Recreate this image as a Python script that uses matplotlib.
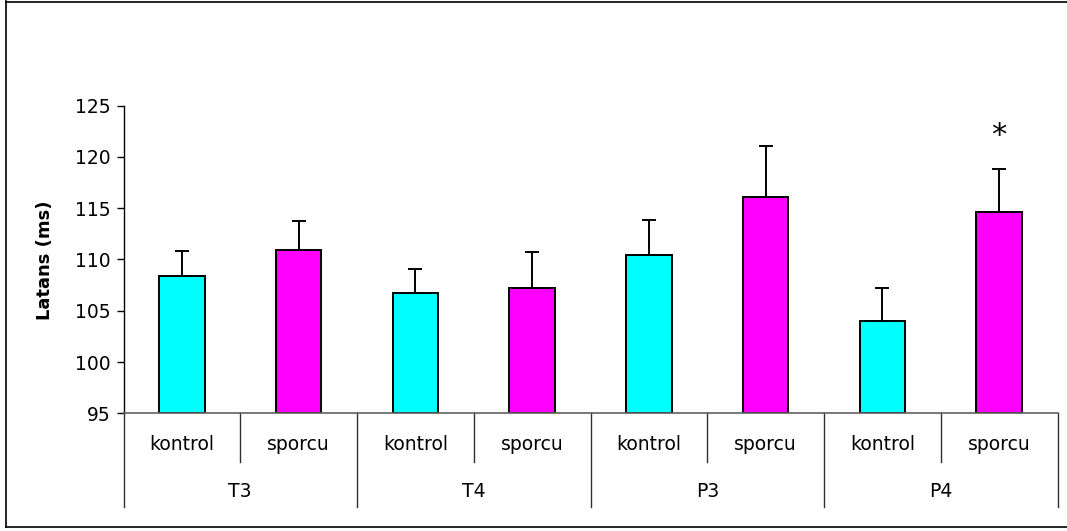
import numpy as np
import matplotlib
matplotlib.use("Agg")
import matplotlib.pyplot as plt
from matplotlib.lines import Line2D

plt.rcParams.update({
    "font.family": "DejaVu Sans",
    "font.size": 13.5,
})

# latency (ms) per electrode site and group, mean and upper SD
sites = ["T3", "T4", "P3", "P4"]
groups = ["kontrol", "sporcu"]
kontrol_mean = [108.4, 106.7, 110.4, 104.0]
kontrol_err = [2.4, 2.4, 3.4, 3.2]
sporcu_mean = [110.9, 107.2, 116.1, 114.6]
sporcu_err = [2.8, 3.5, 5.0, 4.2]
significant = [False, False, False, True]   # marked with * over the sporcu bar

CYAN = "#00FFFF"
MAGENTA = "#FF00FF"
AXIS_GRAY = "#606060"

W, H = 1067, 531
fig = plt.figure(figsize=(W / 100, H / 100), dpi=100)
ax = fig.add_axes([123.5 / W, 1 - 413.3 / H, 934 / W, 307.8 / H])

# interleave the two groups: kontrol, sporcu per site
means, errs, colors = [], [], []
for k, ke, s, se in zip(kontrol_mean, kontrol_err, sporcu_mean, sporcu_err):
    means += [k, s]
    errs += [ke, se]
    colors += [CYAN, MAGENTA]
x = np.arange(len(means)) + 0.5

ax.bar(x, np.array(means) - 95, bottom=95, width=0.39, color=colors,
       edgecolor="black", linewidth=1.4, zorder=2)
ax.errorbar(x, means, yerr=[np.zeros(len(errs)), errs], fmt="none",
            ecolor="black", elinewidth=1.4, capsize=5, capthick=1.4, zorder=3)

for i, sig in enumerate(significant):
    if sig:
        j = 2 * i + 1
        ax.annotate("*", (x[j], means[j] + errs[j]), xytext=(0, 24),
                    textcoords="offset points", ha="center", va="center",
                    fontsize=22)

ax.set_xlim(0, len(means))
ax.set_ylim(95, 125)
ax.set_yticks(np.arange(95, 126, 5))
ax.set_xticks([])
ax.tick_params(axis="y", direction="out", length=5, width=1, pad=4)
for side in ("top", "right"):
    ax.spines[side].set_visible(False)
ax.spines["left"].set_linewidth(1)
ax.spines["bottom"].set_color(AXIS_GRAY)
ax.spines["bottom"].set_linewidth(1.2)

# two-level category axis below the plot
trans = ax.get_xaxis_transform()
for i in range(len(means) + 1):
    depth = -0.303 if i % 2 == 0 else -0.157
    ax.add_line(Line2D([i, i], [0, depth], transform=trans, color="#303030",
                       linewidth=1, clip_on=False))
for i, xi in enumerate(x):
    ax.text(xi, -0.102, groups[i % 2], transform=trans, ha="center",
            va="center")
for i, site in enumerate(sites):
    ax.text(2 * i + 1, -0.254, site, transform=trans, ha="center",
            va="center")

fig.text(45 / W, 1 - 260 / H, "Latans (ms)", rotation=90, ha="center",
         va="center", fontweight="bold", fontsize=13)

# outer chart border
for xs, ys in [([6, 6], [1, 527]), ([6, W], [1.5, 1.5]), ([6, W], [527, 527])]:
    fig.add_artist(Line2D([v / W for v in xs], [1 - v / H for v in ys],
                          color="black", linewidth=1.2))

fig.savefig("out.png", dpi=100, facecolor="white")
